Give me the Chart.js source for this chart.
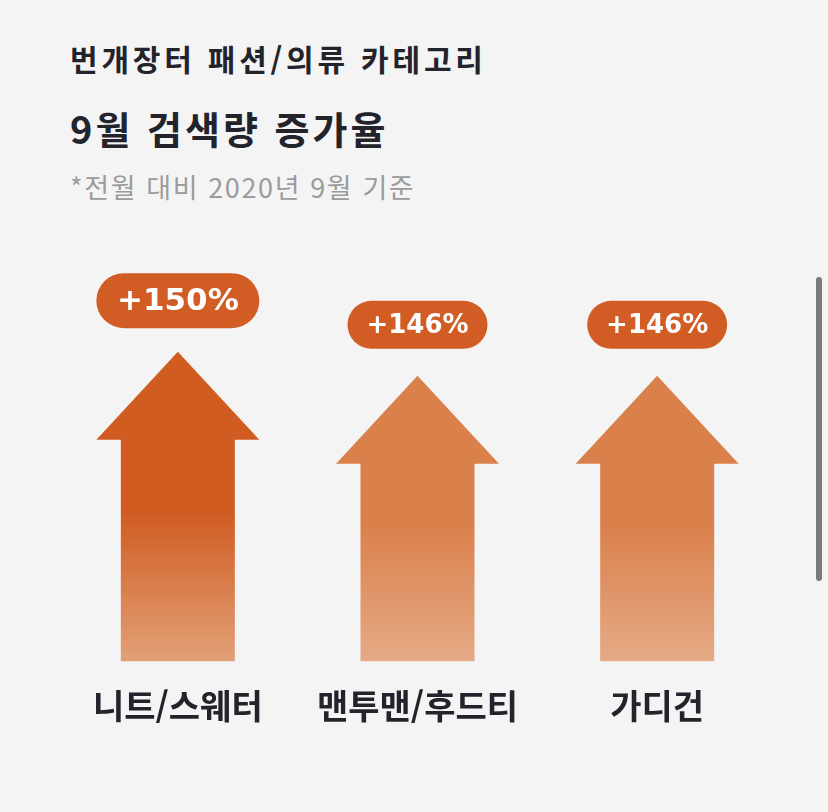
<!DOCTYPE html>
<html lang="ko">
<head>
<meta charset="utf-8">
<script src="https://cdn.jsdelivr.net/npm/chart.js@4.4.1/dist/chart.umd.min.js"></script>
<style>
  html, body { margin: 0; padding: 0; background: #f4f4f4; }
  body { width: 828px; height: 812px; position: relative; overflow: hidden; font-family: "Noto Sans CJK KR", "Noto Sans", sans-serif; }
  .h1 { position: absolute; left: 70px; top: 43px; font-size: 30px; font-weight: 700; color: #23232b; letter-spacing: 3.8px; line-height: 1; }
  .h2 { position: absolute; left: 70px; top: 109px; font-size: 38px; font-weight: 700; color: #23232b; letter-spacing: 3px; line-height: 1; }
  .sub { position: absolute; left: 70px; top: 173px; font-size: 27px; font-weight: 400; color: #9b9b9b; letter-spacing: 1.6px; line-height: 1; }
  .scroll { position: absolute; left: 816px; top: 277px; width: 6px; height: 304px; border-radius: 3px; background: #7b7b7b; }
  #chart { position: absolute; left: 0; top: 0; }
</style>
</head>
<body>
<div class="h1">번개장터 패션/의류 카테고리</div>
<div class="h2">9월 검색량 증가율</div>
<div class="sub">*전월 대비 2020년 9월 기준</div>
<canvas id="chart" width="828" height="812"></canvas>
<div class="scroll"></div>
<script>
// 9월 검색량 증가율 (%)
const categories = ['니트/스웨터', '맨투맨/후드티', '가디건'];
const growth = [150, 146, 146];
const badgeLabels = ['+150%', '+146%', '+146%'];
const axisMin = 98.7;
const axisMax = 170;

const topColors = ['#d05c22', '#da804b', '#da804b'];
const bottomColors = ['#e2a077', '#e5aa86', '#e5aa86'];
const badgeColor = '#d15d24';

const arrowPlugin = {
    id: 'arrows',
    afterDatasetsDraw(chart) {
        const ctx = chart.ctx;
        const yScale = chart.scales.y;
        const meta = chart.getDatasetMeta(0);
        const maxVal = Math.max(...growth);
        const base = yScale.getPixelForValue(yScale.min);
        meta.data.forEach((bar, i) => {
            const x = bar.x, tip = bar.y;
            const half = bar.width / 2;
            const headH = 88, headHalf = 81.5;
            const grad = ctx.createLinearGradient(0, tip, 0, base);
            grad.addColorStop(0, topColors[i]);
            grad.addColorStop(0.52, topColors[i]);
            grad.addColorStop(1, bottomColors[i]);
            ctx.save();
            ctx.fillStyle = grad;
            ctx.beginPath();
            ctx.moveTo(x, tip);
            ctx.lineTo(x + headHalf, tip + headH);
            ctx.lineTo(x + half, tip + headH);
            ctx.lineTo(x + half, base);
            ctx.lineTo(x - half, base);
            ctx.lineTo(x - half, tip + headH);
            ctx.lineTo(x - headHalf, tip + headH);
            ctx.closePath();
            ctx.fill();

            // badge
            const big = growth[i] === maxVal;
            const w = big ? 163 : 140, h = big ? 55 : 48;
            const cy = tip - 51;
            ctx.fillStyle = badgeColor;
            ctx.beginPath();
            ctx.roundRect(x - w / 2, cy - h / 2, w, h, h / 2);
            ctx.fill();
            ctx.fillStyle = '#ffffff';
            ctx.font = 'bold ' + (big ? 31 : 26) + 'px "DejaVu Sans", sans-serif';
            ctx.textAlign = 'center';
            ctx.textBaseline = 'middle';
            ctx.fillText(badgeLabels[i], x, cy + 1);
            ctx.restore();
        });
    }
};

new Chart(document.getElementById('chart'), {
    type: 'bar',
    data: {
        labels: categories,
        datasets: [{
            data: growth,
            base: axisMin,
            backgroundColor: 'rgba(0,0,0,0)',
            borderWidth: 0,
            barThickness: 114
        }]
    },
    options: {
        responsive: false,
        animation: false,
        layout: { padding: { top: 231, left: 58, right: 51, bottom: 62 } },
        plugins: { legend: { display: false }, tooltip: { enabled: false } },
        scales: {
            x: {
                grid: { display: false, drawTicks: false },
                border: { display: false },
                ticks: {
                    padding: 24,
                    color: '#23232b',
                    font: { family: '"Noto Sans CJK KR", sans-serif', size: 34, weight: '700' }
                }
            },
            y: {
                display: false,
                min: axisMin,
                max: axisMax
            }
        }
    },
    plugins: [arrowPlugin]
});
</script>
</body>
</html>
